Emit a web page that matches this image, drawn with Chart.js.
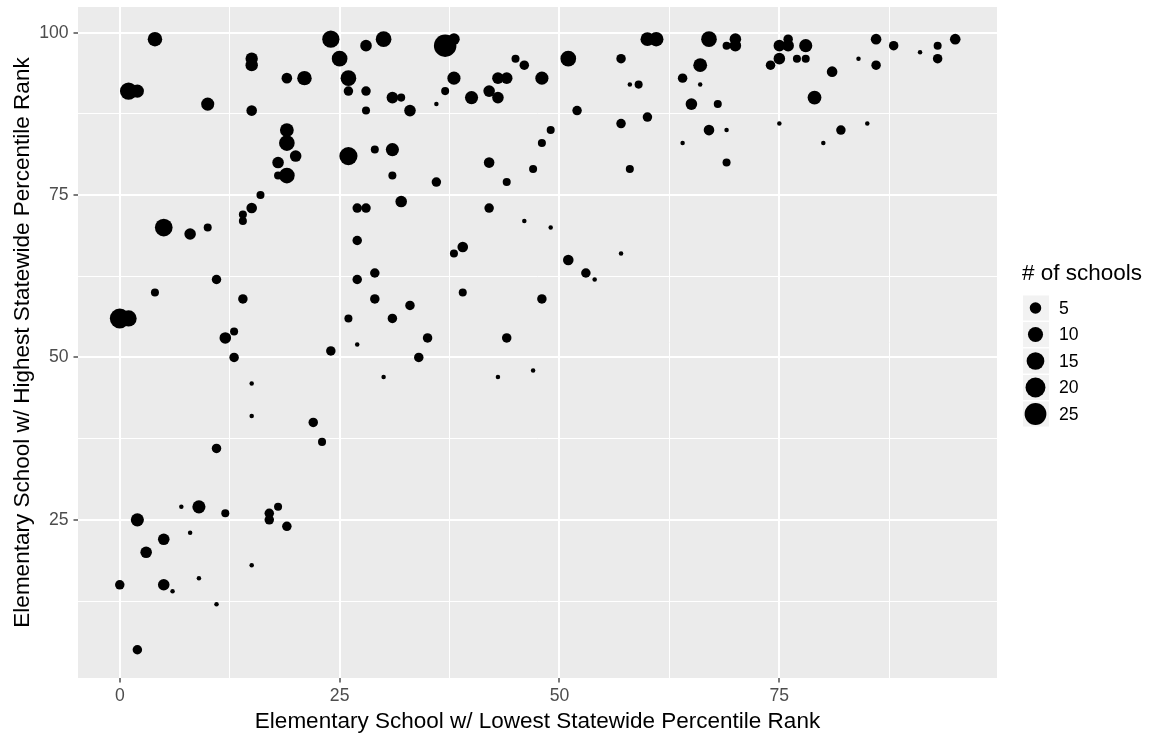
<!DOCTYPE html>
<html>
<head>
<meta charset="utf-8">
<script src="https://cdn.jsdelivr.net/npm/chart.js@4.4.1/dist/chart.umd.min.js"></script>
<style>
  html, body { margin: 0; padding: 0; background: #ffffff; }
  canvas { display: block; }
</style>
</head>
<body>
<canvas id="chart" width="1149" height="736"></canvas>
<script>
// Lowest and highest statewide percentile rank per district, and how many schools it has
const lowestRank = [
  4, 1, 2, 10, 15, 15, 15, 19, 21, 24,
  25, 26, 26, 28, 28, 30, 31, 32, 28, 19,
  19, 20, 18, 18, 19, 26, 29, 31, 31, 16,
  15, 14, 14, 5, 8, 10, 27, 28, 27, 32,
  11, 4, 14, 27, 29, 29, 26, 31, 0, 1,
  12, 13, 27, 13, 24, 30, 15, 15, 22, 23,
  11, 7, 9, 12, 2, 17, 17, 18, 19, 8,
  5, 3, 15, 0, 5, 9, 6, 11, 2, 34,
  43, 47, 37, 38, 45, 46, 38, 37, 36, 40,
  43, 44, 42, 43, 48, 51, 52, 57, 58, 59,
  60, 61, 57, 60, 64, 65, 66, 64, 49, 48,
  42, 47, 44, 36, 58, 42, 46, 49, 57, 38,
  39, 51, 53, 54, 39, 48, 33, 35, 44, 33,
  67, 69, 70, 70, 66, 68, 67, 69, 69, 74,
  75, 75, 76, 76, 77, 78, 78, 75, 81, 79,
  82, 80, 85, 84, 86, 86, 88, 91, 93, 93,
  95
];
const highestRank = [
  99, 91, 91, 89, 96, 95, 88, 93, 93, 99,
  96, 93, 91, 98, 91, 99, 90, 90, 88, 85,
  83, 81, 80, 78, 78, 81, 82, 82, 78, 75,
  73, 72, 71, 70, 69, 70, 73, 73, 68, 74,
  62, 60, 59, 62, 63, 59, 56, 56, 56, 56,
  53, 54, 52, 50, 51, 47, 46, 41, 40, 37,
  36, 27, 27, 26, 25, 26, 25, 27, 24, 23,
  22, 20, 18, 15, 15, 16, 14, 12, 5, 50,
  47, 48, 98, 99, 96, 95, 93, 91, 89, 90,
  93, 93, 91, 90, 93, 96, 88, 96, 92, 92,
  99, 99, 86, 87, 93, 89, 95, 83, 85, 83,
  80, 79, 77, 77, 79, 73, 71, 70, 66, 66,
  67, 65, 63, 62, 60, 59, 58, 53, 53, 88,
  99, 98, 99, 98, 92, 89, 85, 85, 80, 95,
  96, 98, 98, 99, 96, 96, 98, 86, 94, 90,
  85, 83, 86, 96, 99, 95, 98, 97, 98, 96,
  99
];
const schoolCount = [
  9, 14, 7, 7, 6, 6, 4, 4, 9, 14,
  11, 11, 3, 5, 3, 11, 5, 2, 2, 8,
  11, 5, 5, 2, 11, 16, 2, 7, 2, 2,
  4, 2, 2, 15, 5, 2, 3, 3, 3, 5,
  3, 2, 3, 3, 3, 3, 2, 3, 20, 12,
  5, 2, 1, 3, 3, 1, 1, 1, 3, 2,
  3, 1, 7, 2, 7, 3, 3, 2, 3, 1,
  5, 5, 1, 3, 5, 1, 1, 1, 3, 3,
  1, 1, 27, 5, 2, 3, 7, 2, 1, 7,
  5, 5, 5, 5, 7, 11, 3, 3, 1, 2,
  8, 9, 3, 3, 3, 5, 8, 1, 2, 2,
  4, 2, 2, 3, 2, 3, 1, 1, 1, 2,
  4, 4, 3, 1, 2, 3, 3, 3, 3, 5,
  11, 2, 5, 5, 1, 2, 4, 1, 2, 3,
  5, 5, 5, 3, 2, 2, 7, 1, 4, 8,
  3, 1, 1, 1, 4, 3, 3, 1, 2, 3,
  4
];

// Size legend breaks and grid positions (major every 25, minor halfway)
const sizeBreaks = [5, 10, 15, 20, 25];
const xGridValues = [0, 12.5, 25, 37.5, 50, 62.5, 75, 87.5];
const yGridValues = [12.5, 25, 37.5, 50, 62.5, 75, 87.5, 100];

const COUNT_MIN = 1;
const COUNT_MAX = 27;
const FONT = '"Liberation Sans", Arial, sans-serif';

// Area-style size scale: radius grows with the square root of the count
function countToRadius(n) {
  const t = Math.sqrt((n - COUNT_MIN) / (COUNT_MAX - COUNT_MIN));
  return 1.8 * (1 + 5 * t) + 0.45;
}

const isMajor = v => v % 25 === 0;

const points = lowestRank.map((x, i) => ({
  x: x,
  y: highestRank[i],
  r: countToRadius(schoolCount[i])
}));

// Grey panel behind the grid
const panelBackground = {
  id: 'panelBackground',
  beforeDraw(chart) {
    const { ctx, chartArea: a } = chart;
    ctx.save();
    ctx.fillStyle = '#ffffff';
    ctx.fillRect(0, 0, chart.width, chart.height);
    ctx.fillStyle = '#ebebeb';
    ctx.fillRect(a.left, a.top, a.right - a.left, a.bottom - a.top);
    ctx.restore();
  }
};

// Legend for the bubble sizes, drawn to the right of the panel
const sizeLegend = {
  id: 'sizeLegend',
  afterDraw(chart) {
    const ctx = chart.ctx;
    const left = chart.chartArea.right + 25;
    ctx.save();
    ctx.fillStyle = '#000000';
    ctx.textAlign = 'left';
    ctx.textBaseline = 'alphabetic';
    ctx.font = '22.5px ' + FONT;
    ctx.fillText('# of schools', left, 280);

    const firstRow = 308;
    const rowStep = 26.5;
    const keySize = 25;
    sizeBreaks.forEach((n, i) => {
      const cy = firstRow + i * rowStep;
      const cx = left + 1 + keySize / 2;
      ctx.fillStyle = '#f2f2f2';
      ctx.fillRect(left + 1, cy - keySize / 2, keySize + 1, keySize);
      ctx.fillStyle = '#000000';
      ctx.beginPath();
      ctx.arc(cx, cy, countToRadius(n), 0, Math.PI * 2);
      ctx.fill();
      ctx.font = '17.6px ' + FONT;
      ctx.textBaseline = 'middle';
      ctx.fillText(String(n), left + 37, cy + 1);
    });
    ctx.restore();
  }
};

function axisOptions(gridValues, min, max, title, titlePadding, fitSize, horizontal) {
  return {
    type: 'linear',
    min: min,
    max: max,
    afterBuildTicks: axis => { axis.ticks = gridValues.map(v => ({ value: v })); },
    afterFit: axis => {
      if (horizontal) {
        axis.height = fitSize;
        axis.paddingLeft = 0;
        axis.paddingRight = 0;
      } else {
        axis.width = fitSize;
        axis.paddingTop = 0;
        axis.paddingBottom = 0;
      }
    },
    border: { display: false },
    grid: {
      color: '#ffffff',
      lineWidth: c => (c.tick && isMajor(c.tick.value) ? 2 : 1),
      drawTicks: true,
      tickLength: 4.5,
      tickWidth: 1.3,
      tickColor: c => (c.tick && isMajor(c.tick.value) ? '#333333' : 'rgba(0,0,0,0)')
    },
    ticks: {
      autoSkip: false,
      maxRotation: 0,
      color: '#4d4d4d',
      font: { family: FONT, size: 17.6 },
      padding: horizontal ? 3 : 5,
      callback: v => (isMajor(v) ? String(v) : '')
    },
    title: {
      display: true,
      text: title,
      color: '#000000',
      font: { family: FONT, size: 22.5 },
      padding: titlePadding
    }
  };
}

new Chart(document.getElementById('chart'), {
  type: 'bubble',
  data: {
    datasets: [{
      label: '# of schools',
      data: points,
      backgroundColor: '#000000',
      borderWidth: 0,
      hoverBorderWidth: 0,
      hoverRadius: 0
    }]
  },
  options: {
    responsive: false,
    animation: false,
    devicePixelRatio: 1,
    events: [],
    layout: { autoPadding: false, padding: { left: 0, top: 7, right: 152, bottom: 0 } },
    plugins: {
      legend: { display: false },
      tooltip: { enabled: false }
    },
    scales: {
      x: axisOptions(xGridValues, -4.75, 99.75,
        'Elementary School w/ Lowest Statewide Percentile Rank',
        { top: 0, bottom: 1 }, 58, true),
      y: axisOptions(yGridValues, 0.65, 103.95,
        'Elementary School w/ Highest Statewide Percentile Rank',
        { top: 9, bottom: 0 }, 78, false)
    }
  },
  plugins: [panelBackground, sizeLegend]
});
</script>
</body>
</html>
